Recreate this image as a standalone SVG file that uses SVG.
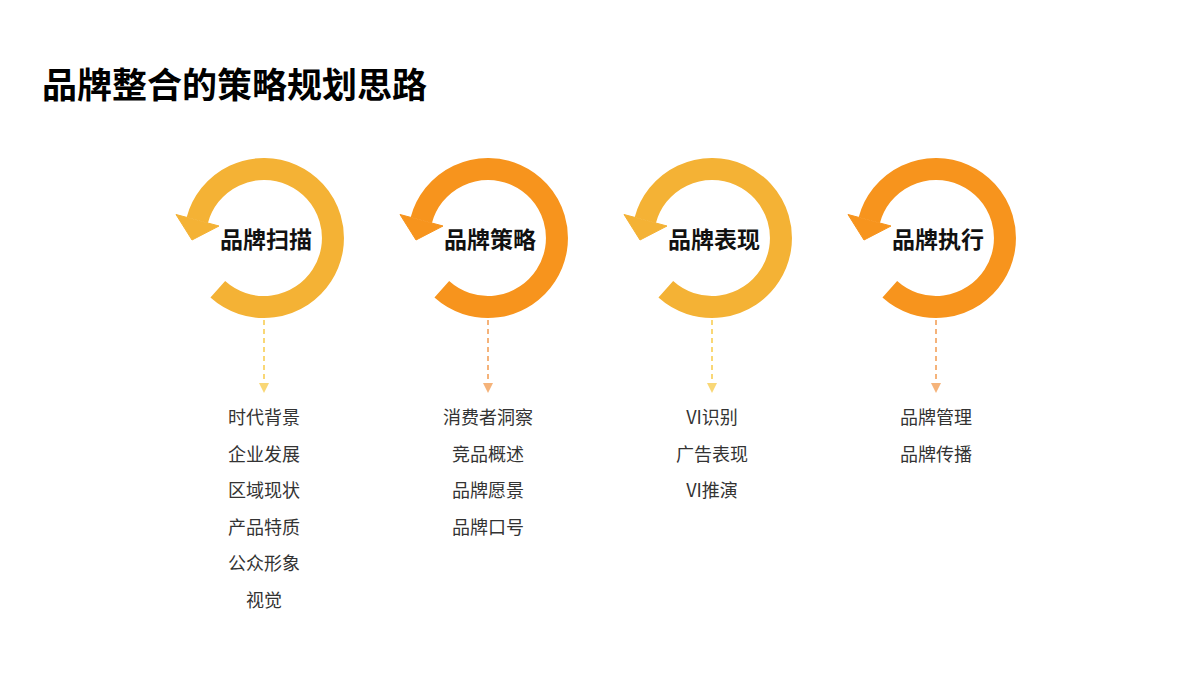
<svg xmlns="http://www.w3.org/2000/svg" width="1200" height="676" viewBox="0 0 1200 676">
<defs>
<style>
.t{font-family:"Noto Sans CJK SC","Liberation Sans",sans-serif}
.title{font-size:35px;font-weight:bold;fill:#000}
.lbl{font-size:23px;font-weight:bold;fill:#111;text-anchor:middle}
.it{font-size:18px;fill:#333;text-anchor:middle}
.ring{fill:none;stroke-width:22}
</style>
<g id="ringshape">
<path d="M217.8,289.3 A69,69 0 1 0 197.3,220.1" class="ring"/>
<polygon points="176,214.5 219,226 192,240"/>
</g>
<marker id="ay" markerWidth="10" markerHeight="10" refX="5" refY="5" orient="auto" markerUnits="userSpaceOnUse"><path d="M0,0 L10,5 L0,10 z" fill="#F9D776"/></marker>
<marker id="ao" markerWidth="10" markerHeight="10" refX="5" refY="5" orient="auto" markerUnits="userSpaceOnUse"><path d="M0,0 L10,5 L0,10 z" fill="#F5B37A"/></marker>
</defs>
<rect width="1200" height="676" fill="#fff"/>
<text class="t title" x="42" y="98">品牌整合的策略规划思路</text>
<g id="connectors" stroke-width="2" stroke-dasharray="5,4" fill="none">
<line x1="264" y1="320" x2="264" y2="388" stroke="#F9D776" marker-end="url(#ay)"/>
<line x1="488" y1="320" x2="488" y2="388" stroke="#F5B37A" marker-end="url(#ao)"/>
<line x1="712" y1="320" x2="712" y2="388" stroke="#F9D776" marker-end="url(#ay)"/>
<line x1="936" y1="320" x2="936" y2="388" stroke="#F5B37A" marker-end="url(#ao)"/>
</g>
<g id="n1"><use href="#ringshape" stroke="#F4B235" fill="#F4B235"/><text class="t lbl" x="266" y="248">品牌扫描</text></g>
<g id="n2"><use href="#ringshape" transform="translate(224,0)" stroke="#F7941D" fill="#F7941D"/><text class="t lbl" x="490" y="248">品牌策略</text></g>
<g id="n3"><use href="#ringshape" transform="translate(448,0)" stroke="#F4B235" fill="#F4B235"/><text class="t lbl" x="714" y="248">品牌表现</text></g>
<g id="n4"><use href="#ringshape" transform="translate(672,0)" stroke="#F7941D" fill="#F7941D"/><text class="t lbl" x="938" y="248">品牌执行</text></g>
<g id="list1" class="t it">
<text x="264" y="424" class="t it">时代背景</text><text x="264" y="461" class="t it">企业发展</text><text x="264" y="497" class="t it">区域现状</text><text x="264" y="534" class="t it">产品特质</text><text x="264" y="570" class="t it">公众形象</text><text x="264" y="607" class="t it">视觉</text>
</g>
<g id="list2">
<text x="488" y="424" class="t it">消费者洞察</text><text x="488" y="461" class="t it">竞品概述</text><text x="488" y="497" class="t it">品牌愿景</text><text x="488" y="534" class="t it">品牌口号</text>
</g>
<g id="list3">
<text x="712" y="424" class="t it">VI识别</text><text x="712" y="461" class="t it">广告表现</text><text x="712" y="497" class="t it">VI推演</text>
</g>
<g id="list4">
<text x="936" y="424" class="t it">品牌管理</text><text x="936" y="461" class="t it">品牌传播</text>
</g>
</svg>
